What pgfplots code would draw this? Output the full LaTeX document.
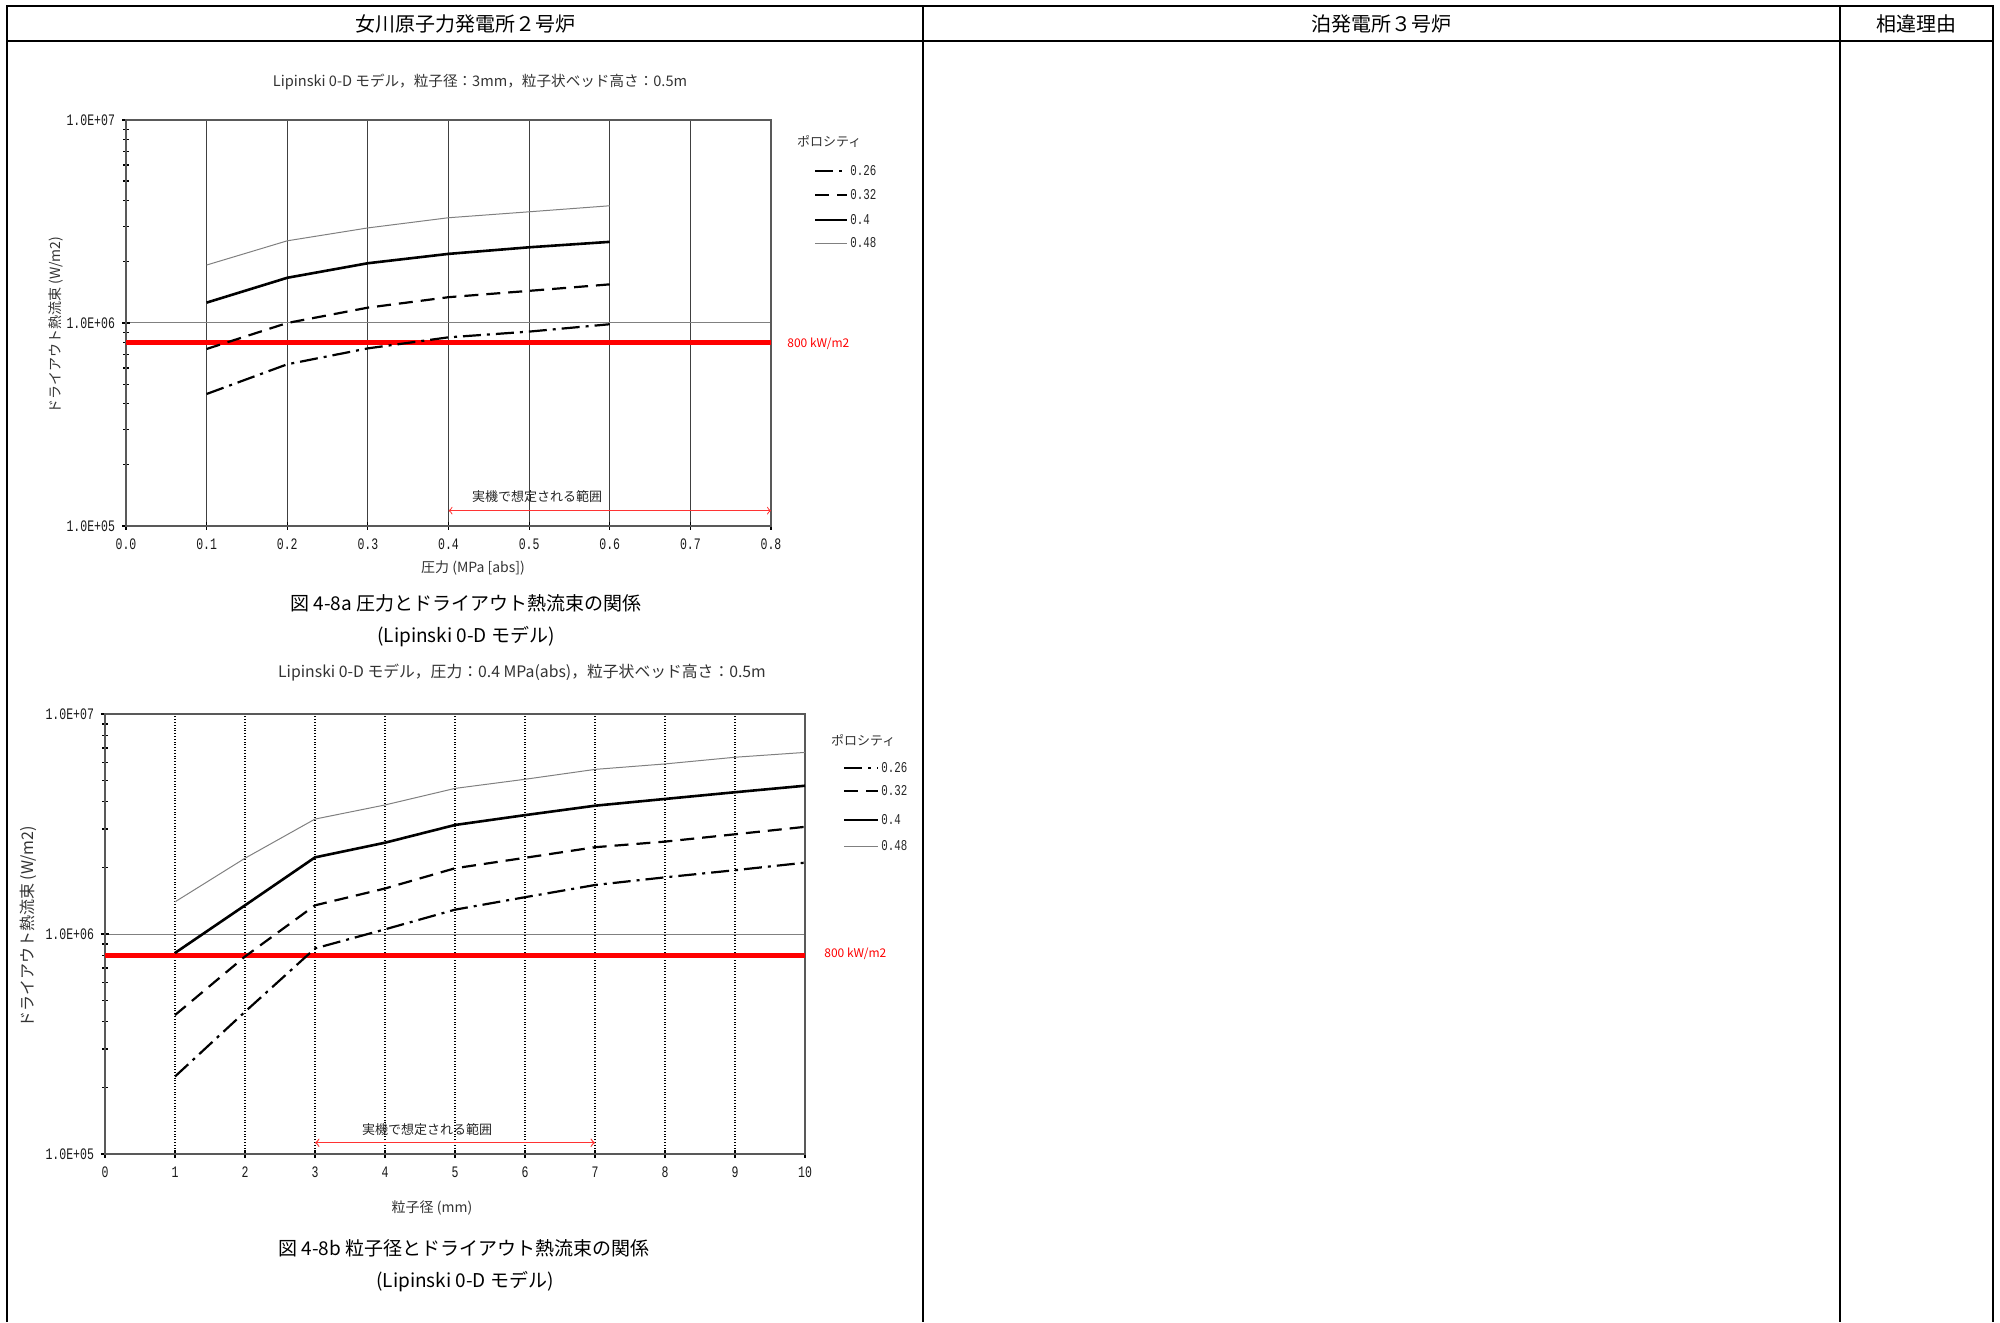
\documentclass[border=0pt]{standalone}
\usepackage{fontspec}
\setmainfont{Noto Sans CJK JP}
\setmonofont{Liberation Mono}
\newfontfamily\tickfont[FakeStretch=0.72]{Liberation Mono}
\usepackage{pgfplots}
\pgfplotsset{compat=1.18}
\newcommand{\fs}[1]{\fontsize{#1}{#1}\selectfont}
\pgfplotsset{
 mychart/.style={
  scale only axis, ymin=1e5, ymax=1e7,
  ytick={1e5,1e6,1e7}, yticklabels={1.0E+05,1.0E+06,1.0E+07},
  tick label style={font=\tickfont\fs{8pt}, gray!20!black},
  axis line style={gray!70!black, line width=0.8pt},
  tick style={black, line width=0.6pt},
  major tick length=4pt, minor tick length=3pt,
  tick pos=left, tick align=center,
  xmajorgrids, ymajorgrids,
  major y grid style={gray, line width=0.5pt},
  xticklabel style={yshift=-1pt},
 },
}
\tikzset{
 s26/.style={black, line width=1.1pt, dash pattern=on 9pt off 3pt on 1.5pt off 3pt},
 s32/.style={black, line width=1.1pt, dash pattern=on 7pt off 4pt},
 s40/.style={black, line width=1.3pt},
 s48/.style={gray, line width=0.5pt},
 legtxt/.style={font=\tickfont\fs{7.5pt}, anchor=west, inner sep=1pt, gray!30!black},
}
\begin{document}
\begin{tikzpicture}
\begin{scope}[x=0.5pt,y=-0.5pt]
\path[use as bounding box] (0,0) rectangle (2000,1322);
% table
\draw[line width=1pt] (6.5,1322) -- (6.5,6) -- (1993,6) -- (1993,1322);
\draw[line width=1pt] (923,6) -- (923,1322);
\draw[line width=1pt] (1840,6) -- (1840,1322);
\draw[line width=1.4pt] (6.5,41) -- (1993,41);
\node[font=\fs{10pt}] at (465,24) {女川原子力発電所２号炉};
\node[font=\fs{10pt}] at (1381,24) {泊発電所３号炉};
\node[font=\fs{10pt}] at (1916,24) {相違理由};
% chart 1 texts
\node[font=\fs{7.3pt}, gray!40!black] at (480,82) {Lipinski 0-D モデル，粒子径：3mm，粒子状ベッド高さ：0.5m};
\node[font=\fs{7pt}, rotate=90, gray!40!black] at (56,325) {ドライアウト熱流束 (W/m2)};
\node[font=\fs{7pt}, gray!40!black] at (473,568) {圧力 (MPa [abs])};
\node[font=\fs{9.5pt}] at (466,603) {図 4-8a 圧力とドライアウト熱流束の関係};
\node[font=\fs{9.5pt}] at (466,637) {(Lipinski 0-D モデル)};
\node[font=\fs{6.5pt}, anchor=west, gray!40!black] at (790,141) {ポロシティ};
\draw[s26] (815,171) -- (847,171);
\draw[s32] (815,195) -- (847,195);
\draw[s40] (815,220) -- (847,220);
\draw[s48] (815,243) -- (847,243);
\node[legtxt] at (848,171) {0.26};
\node[legtxt] at (848,195) {0.32};
\node[legtxt] at (848,220) {0.4};
\node[legtxt] at (848,243) {0.48};
\node[font=\fs{6pt}, anchor=west, red, inner sep=0pt] at (787,344) {800 kW/m2};
% chart 2 texts
\node[font=\fs{7.9pt}, gray!40!black] at (522,673) {Lipinski 0-D モデル，圧力：0.4 MPa(abs)，粒子状ベッド高さ：0.5m};
\node[font=\fs{8pt}, rotate=90, gray!40!black] at (28,927) {ドライアウト熱流束 (W/m2)};
\node[font=\fs{7pt}, gray!40!black] at (432,1208) {粒子径 (mm)};
\node[font=\fs{9.5pt}] at (464,1248) {図 4-8b 粒子径とドライアウト熱流束の関係};
\node[font=\fs{9.5pt}] at (465,1282) {(Lipinski 0-D モデル)};
\node[font=\fs{6.5pt}, anchor=west, gray!40!black] at (824,740) {ポロシティ};
\draw[s26] (844,768) -- (878,768);
\draw[s32] (844,791) -- (878,791);
\draw[s40] (844,820) -- (878,820);
\draw[s48] (844,846) -- (878,846);
\node[legtxt] at (879,768) {0.26};
\node[legtxt] at (879,791) {0.32};
\node[legtxt] at (879,820) {0.4};
\node[legtxt] at (879,846) {0.48};
\node[font=\fs{6pt}, anchor=west, red, inner sep=0pt] at (824,954) {800 kW/m2};
\end{scope}
% chart 1
\begin{semilogyaxis}[mychart, at={(63pt,-263pt)}, anchor=south west,
  width=322.5pt, height=203pt,
  major x grid style={gray!50!black, line width=0.5pt},
  xmin=0, xmax=0.8, xtick={0,0.1,0.2,0.3,0.4,0.5,0.6,0.7,0.8},
  xticklabels={0.0,0.1,0.2,0.3,0.4,0.5,0.6,0.7,0.8}]
\addplot[red, line width=2.3pt] coordinates {(0,8e5) (0.8,8e5)};
\addplot[s26] coordinates {(0.1,4.47e5) (0.2,6.26e5) (0.3,7.5e5) (0.4,8.5e5) (0.5,9.07e5) (0.6,9.86e5)};
\addplot[s32] coordinates {(0.1,7.45e5) (0.2,1.0e6) (0.3,1.19e6) (0.4,1.34e6) (0.5,1.44e6) (0.6,1.55e6)};
\addplot[s40] coordinates {(0.1,1.26e6) (0.2,1.67e6) (0.3,1.97e6) (0.4,2.19e6) (0.5,2.36e6) (0.6,2.51e6)};
\addplot[s48] coordinates {(0.1,1.93e6) (0.2,2.54e6) (0.3,2.94e6) (0.4,3.30e6) (0.5,3.53e6) (0.6,3.78e6)};
\addplot[red!80, line width=0.5pt, <->] coordinates {(0.4,1.19e5) (0.8,1.19e5)};
\node[font=\fs{6.5pt}, gray!30!black] at (axis cs:0.51,1.40e5) {実機で想定される範囲};
\end{semilogyaxis}
% chart 2
\begin{semilogyaxis}[mychart, at={(52.5pt,-577pt)}, anchor=south west,
  width=350pt, height=220pt,
  major x grid style={black, densely dotted, line width=0.7pt},
  xmin=0, xmax=10, xtick={0,1,...,10}, xticklabels={0,1,2,3,4,5,6,7,8,9,10}]
\addplot[red, line width=2.3pt] coordinates {(0,8e5) (10,8e5)};
\addplot[s26] coordinates {(1,2.25e5) (2,4.43e5) (3,8.6e5) (4,1.05e6) (5,1.29e6) (6,1.47e6) (7,1.67e6) (8,1.81e6) (9,1.95e6) (10,2.11e6)};
\addplot[s32] coordinates {(1,4.28e5) (2,7.9e5) (3,1.35e6) (4,1.61e6) (5,1.99e6) (6,2.22e6) (7,2.48e6) (8,2.63e6) (9,2.84e6) (10,3.07e6)};
\addplot[s40] coordinates {(1,8.2e5) (2,1.35e6) (3,2.23e6) (4,2.60e6) (5,3.13e6) (6,3.47e6) (7,3.83e6) (8,4.11e6) (9,4.41e6) (10,4.72e6)};
\addplot[s48] coordinates {(1,1.40e6) (2,2.21e6) (3,3.33e6) (4,3.86e6) (5,4.59e6) (6,5.05e6) (7,5.6e6) (8,5.93e6) (9,6.36e6) (10,6.69e6)};
\addplot[red!80, line width=0.6pt, <->] coordinates {(3,1.125e5) (7,1.125e5)};
\node[font=\fs{6.5pt}, gray!30!black] at (axis cs:4.6,1.29e5) {実機で想定される範囲};
\end{semilogyaxis}
\end{tikzpicture}
\end{document}
